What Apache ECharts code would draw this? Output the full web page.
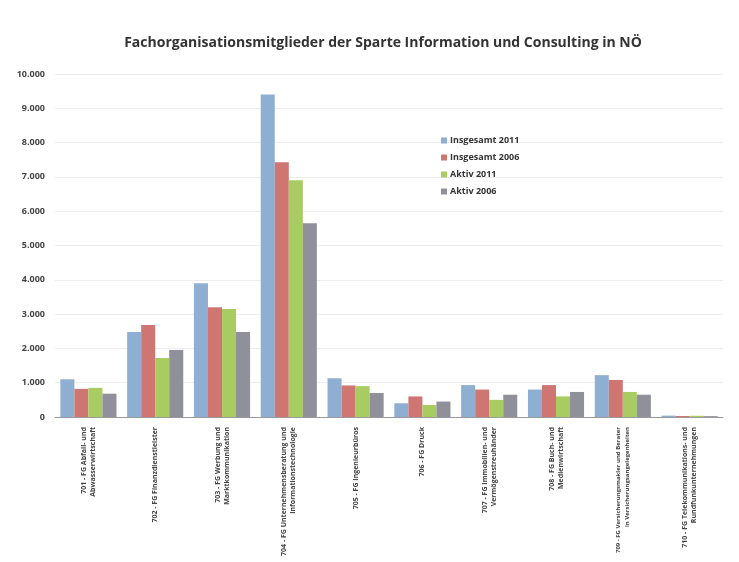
<!DOCTYPE html>
<html>
<head>
<meta charset="utf-8">
<script src="https://cdn.jsdelivr.net/npm/echarts@6/dist/echarts.min.js"></script>
<style>
html,body{margin:0;padding:0;background:#fff;}
#c{width:739px;height:562px;}
</style>
</head>
<body>
<div id="c"></div>
<script>
const categories = [
  "701 - FG Abfall- und\nAbwasserwirtschaft",
  "702 - FG Finanzdienstleister",
  "703 - FG Werbung und\nMarktkommunikation",
  "704 - FG Unternehmensberatung und\nInformationstechnologie",
  "705 - FG Ingenieurbüros",
  "706 - FG Druck",
  "707 - FG Immobilien- und\nVermögenstreuhänder",
  "708 - FG Buch- und\nMedienwirtschaft",
  "709 - FG Versicherungsmakler und Berater\nin Versicherungsangelegenheiten",
  "710 - FG Telekommunikations- und\nRundfunkunternehmungen"
];
const seriesNames = ["Insgesamt 2011", "Insgesamt 2006", "Aktiv 2011", "Aktiv 2006"];
const insgesamt2011 = [1100, 2480, 3900, 9400, 1130, 400, 930, 800, 1220, 40];
const insgesamt2006 = [820, 2680, 3200, 7430, 920, 600, 800, 930, 1080, 30];
const aktiv2011     = [850, 1720, 3150, 6900, 900, 350, 500, 600, 730, 35];
const aktiv2006     = [680, 1950, 2480, 5650, 700, 450, 650, 730, 650, 25];
const yTicks = [0, 1000, 2000, 3000, 4000, 5000, 6000, 7000, 8000, 9000, 10000];

const colors = ["#8eafd2", "#cf7672", "#a8cb62", "#8f9099"];
const values = [insgesamt2011, insgesamt2006, aktiv2011, aktiv2006];

const chart = echarts.init(document.getElementById('c'));
chart.setOption({
  animation: false,
  backgroundColor: '#fff',
  color: colors,
  title: {
    text: 'Fachorganisationsmitglieder der Sparte Information und Consulting in NÖ',
    left: 378, top: 31, textAlign: 'center',
    textStyle: { fontFamily: 'Open Sans', fontWeight: 'bold', fontSize: 14, color: '#333' }
  },
  legend: {
    orient: 'vertical',
    left: 436, top: 131,
    itemWidth: 6, itemHeight: 6, itemGap: 8,
    icon: 'rect',
    textStyle: { fontFamily: 'Open Sans', fontWeight: 'bold', fontSize: 9, color: '#333', padding: [0,0,0,-2] },
    data: seriesNames
  },
  grid: { left: 55, right: 16, top: 74, bottom: 145, outerBoundsMode: 'none', containLabel: false },
  xAxis: {
    type: 'category',
    data: categories,
    axisTick: { show: false },
    axisLine: { lineStyle: { color: '#999' } },
    axisLabel: {
      rotate: 90, interval: 0, margin: 10,
      fontFamily: 'Open Sans', fontWeight: 'bold', fontSize: 7, color: '#444', lineHeight: 9,
      formatter: (v, i) => i === 8 ? v.split('\n').map(s => '{s|' + s + '}').join('\n') : v,
      rich: { s: { fontFamily: 'Open Sans', fontWeight: 'bold', fontSize: 6, color: '#444', lineHeight: 9 } }
    }
  },
  yAxis: {
    type: 'value',
    min: 0, max: 10000, interval: 1000,
    axisLine: { show: false },
    axisTick: { show: false },
    splitLine: { lineStyle: { color: '#eeeeee' } },
    axisLabel: {
      margin: 10,
      fontFamily: 'Open Sans', fontWeight: 'bold', fontSize: 9, color: '#444',
      formatter: v => yTicks.includes(v) ? (v >= 1000 ? Math.floor(v/1000) + '.' + String(v%1000).padStart(3,'0') : String(v)) : ''
    }
  },
  series: seriesNames.map((n, i) => ({
    name: n,
    type: 'bar',
    data: values[i],
    barGap: '0%',
    barCategoryGap: '16%',
    itemStyle: { color: colors[i] }
  }))
});
</script>
</body>
</html>
